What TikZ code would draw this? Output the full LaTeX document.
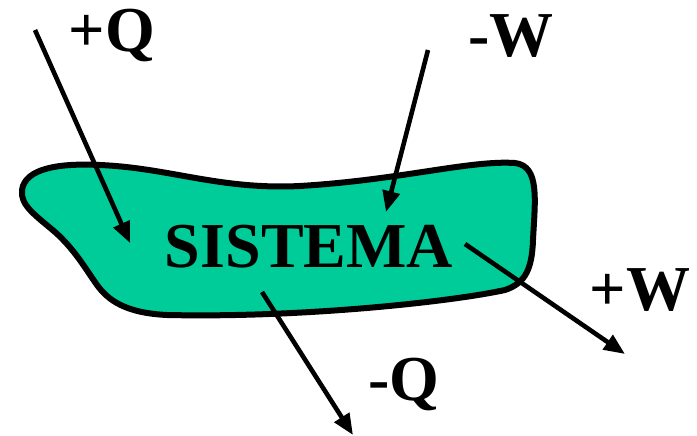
\documentclass[tikz,border=0pt]{standalone}
\usepackage{fontspec}
\setmainfont{Liberation Serif}
\usetikzlibrary{arrows.meta}
\definecolor{teal1}{HTML}{00CC99}
\tikzset{
  lbl/.style={font=\bfseries\fontsize{64}{64}\selectfont, inner sep=0pt},
  flow/.style={line width=4.6pt, -{Triangle[length=21pt,width=17pt]}},
}
\begin{document}
\begin{tikzpicture}[x=1pt,y=-1pt]
\useasboundingbox (0,0) rectangle (697,436);
\draw[fill=teal1, line width=6pt, line join=round]
  (22,190) .. controls (25,168) and (60,163) .. (100,165)
  .. controls (170,168) and (220,190) .. (300,186)
  .. controls (400,180) and (470,160) .. (515,163)
  .. controls (540,166) and (535,200) .. (533,240)
  .. controls (532,268) and (526,283) .. (505,290)
  .. controls (450,302) and (300,318) .. (167,315)
  .. controls (125,313) and (108,300) .. (97,285)
  .. controls (85,268) and (75,250) .. (55,232)
  .. controls (35,215) and (20,205) .. cycle;
\node[lbl] (sys) at (309,247) {SISTEMA};
\node[lbl] (pq) at (112,36) {+Q};
\node[lbl] (mw) at (511,36) {-W};
\node[lbl] (pw) at (640,290) {+W};
\node[lbl] (mq) at (404,384) {-Q};
\coordinate (a1) at (35,30);  \coordinate (b1) at (130,243);
\coordinate (a2) at (428,50); \coordinate (b2) at (386,212);
\coordinate (a3) at (465,244); \coordinate (b3) at (625,354);
\coordinate (a4) at (262,292); \coordinate (b4) at (353,435);
\draw[flow] (a1) -- (b1);
\draw[flow] (a2) -- (b2);
\draw[flow] (a3) -- (b3);
\draw[flow] (a4) -- (b4);
\end{tikzpicture}
\end{document}
